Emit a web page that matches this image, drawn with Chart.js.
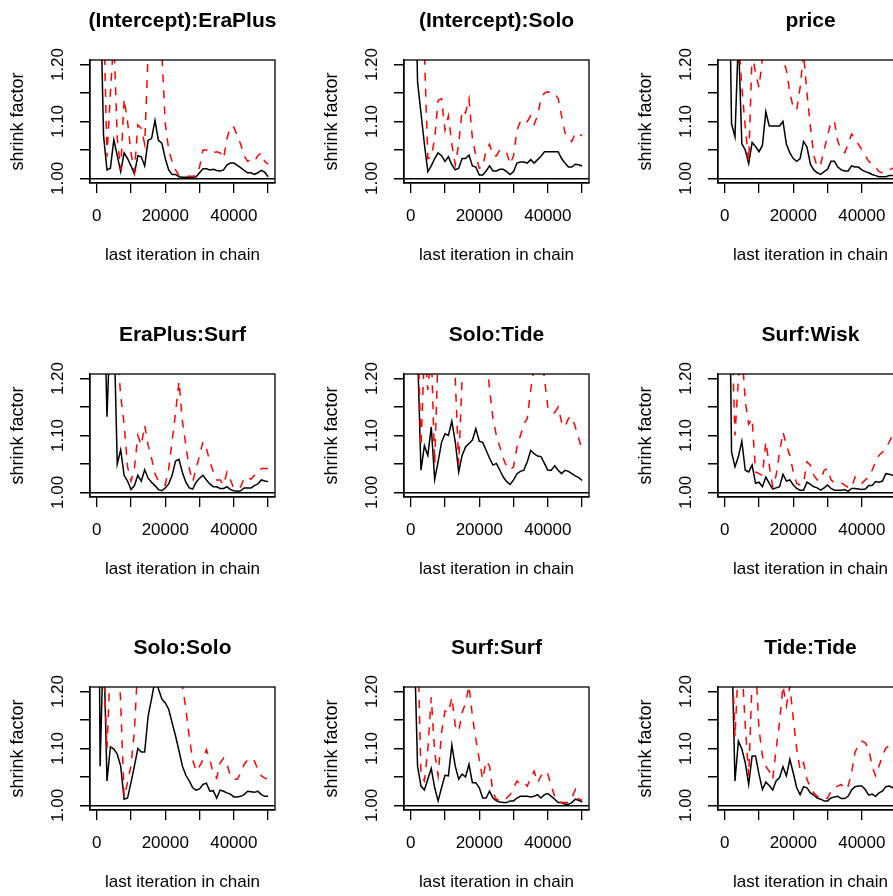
<!DOCTYPE html>
<html>
<head>
<meta charset="utf-8">
<script src="https://cdn.jsdelivr.net/npm/chart.js@4.4.0/dist/chart.umd.min.js"></script>
<style>
  body { margin: 0; background: #fff; }
  #grid { position: relative; width: 893px; height: 896px; overflow: hidden; background: #fff; }
  #grid canvas { position: absolute; }
</style>
</head>
<body>
<div id="grid"></div>
<script>
// Gelman-Rubin shrink factor plots, 3 x 3 panels

// x values: last iteration in chain
var iterations = [0, 1000, 2000, 3000, 4000, 5000, 6000, 7000, 8000, 9000,
  10000, 11000, 12000, 13000, 14000, 15000, 16000, 17000, 18000, 19000,
  20000, 21000, 22000, 23000, 24000, 25000, 26000, 27000, 28000, 29000,
  30000, 31000, 32000, 33000, 34000, 35000, 36000, 37000, 38000, 39000,
  40000, 41000, 42000, 43000, 44000, 45000, 46000, 47000, 48000, 49000, 50000];

var xTicks = [0, 10000, 20000, 30000, 40000, 50000];
var xTickLabels = ['0', '', '20000', '', '40000', ''];
var yTicks = [1.00, 1.05, 1.10, 1.15, 1.20];
var yTickLabels = ['1.00', '', '1.10', '', '1.20'];

var panelTitles = ['(Intercept):EraPlus', '(Intercept):Solo', 'price',
  'EraPlus:Surf', 'Solo:Tide', 'Surf:Wisk',
  'Solo:Solo', 'Surf:Surf', 'Tide:Tide'];

// median (black) and 97.5% (red dashed) shrink factors
var eraPlusMedian = [1.6, 1.35, 1.075, 1.015, 1.018, 1.068, 1.04, 1.012, 1.045, 1.035,
  1.022, 1.008, 1.04, 1.038, 1.022, 1.067, 1.07, 1.102, 1.067, 1.062,
  1.035, 1.015, 1.007, 1.007, 1.003, 1.002, 1.002, 1.002, 1.002, 1.003,
  1.01, 1.017, 1.017, 1.015, 1.016, 1.014, 1.013, 1.015, 1.024, 1.027,
  1.027, 1.023, 1.019, 1.014, 1.01, 1.01, 1.007, 1.01, 1.014, 1.011, 1.003];
var eraPlusUpper = [2.0, 1.6, 1.3, 1.038, 1.15, 1.25, 1.07, 1.015, 1.14, 1.10,
  1.045, 1.012, 1.094, 1.088, 1.06, 1.22, 1.35, 1.35, 1.3, 1.22,
  1.097, 1.05, 1.03, 1.015, 1.005, 1.004, 1.004, 1.004, 1.004, 1.005,
  1.02, 1.05, 1.05, 1.045, 1.045, 1.047, 1.045, 1.035, 1.07, 1.091,
  1.09, 1.075, 1.06, 1.04, 1.03, 1.033, 1.03, 1.04, 1.045, 1.03, 1.025];

var soloMedian = [2.0, 1.5, 1.17, 1.115, 1.06, 1.012, 1.022, 1.035, 1.045, 1.04,
  1.03, 1.038, 1.024, 1.015, 1.018, 1.035, 1.035, 1.041, 1.022, 1.02,
  1.006, 1.006, 1.013, 1.022, 1.013, 1.013, 1.016, 1.016, 1.012, 1.007,
  1.012, 1.027, 1.029, 1.029, 1.027, 1.033, 1.027, 1.033, 1.039, 1.047,
  1.047, 1.047, 1.047, 1.047, 1.035, 1.027, 1.02, 1.02, 1.025, 1.024, 1.022];
var soloUpper = [2.0, 1.8, 1.5, 1.35, 1.22, 1.035, 1.038, 1.07, 1.137, 1.14,
  1.085, 1.11, 1.06, 1.024, 1.06, 1.12, 1.115, 1.14, 1.07, 1.04,
  1.018, 1.02, 1.05, 1.06, 1.04, 1.04, 1.05, 1.05, 1.045, 1.025,
  1.04, 1.085, 1.1, 1.095, 1.1, 1.11, 1.095, 1.11, 1.14, 1.15,
  1.152, 1.15, 1.15, 1.14, 1.11, 1.08, 1.07, 1.065, 1.08, 1.078, 1.075];

var priceMedian = [2.0, 1.5, 1.096, 1.073, 1.25, 1.061, 1.05, 1.026, 1.063, 1.056,
  1.047, 1.058, 1.117, 1.092, 1.092, 1.092, 1.092, 1.1, 1.06, 1.045,
  1.035, 1.03, 1.035, 1.065, 1.055, 1.025, 1.015, 1.01, 1.007, 1.012,
  1.016, 1.03, 1.03, 1.02, 1.015, 1.013, 1.013, 1.022, 1.02, 1.02,
  1.015, 1.012, 1.01, 1.007, 1.005, 1.003, 1.003, 1.003, 1.005, 1.005, 1.005];
var priceUpper = [2.0, 1.8, 1.6, 1.4, 1.25, 1.16, 1.09, 1.03, 1.22, 1.185,
  1.16, 1.21, 1.3, 1.3, 1.3, 1.3, 1.3, 1.21, 1.19, 1.15,
  1.125, 1.12, 1.16, 1.22, 1.15, 1.09, 1.04, 1.02, 1.025, 1.05,
  1.075, 1.1, 1.1, 1.065, 1.05, 1.045, 1.06, 1.078, 1.07, 1.06,
  1.05, 1.04, 1.03, 1.025, 1.02, 1.012, 1.01, 1.012, 1.015, 1.018, 1.02];

var eraPlusSurfMedian = [2.0, 1.6, 1.4, 1.133, 1.3, 1.3, 1.05, 1.075, 1.03, 1.02,
  1.005, 1.012, 1.03, 1.02, 1.04, 1.025, 1.018, 1.012, 1.005, 1.003,
  1.008, 1.015, 1.03, 1.055, 1.058, 1.035, 1.018, 1.008, 1.006, 1.018,
  1.025, 1.03, 1.022, 1.015, 1.01, 1.01, 1.007, 1.007, 1.01, 1.005,
  1.003, 1.002, 1.003, 1.008, 1.008, 1.008, 1.012, 1.015, 1.022, 1.02, 1.019];
var eraPlusSurfUpper = [2.0, 2.0, 1.8, 1.6, 1.5, 1.4, 1.25, 1.17, 1.12, 1.045,
  1.02, 1.042, 1.1, 1.083, 1.118, 1.083, 1.06, 1.033, 1.02, 1.016,
  1.013, 1.042, 1.09, 1.14, 1.195, 1.125, 1.083, 1.042, 1.019, 1.042,
  1.065, 1.089, 1.077, 1.054, 1.036, 1.022, 1.022, 1.013, 1.036, 1.022,
  1.007, 1.007, 1.01, 1.025, 1.027, 1.023, 1.03, 1.033, 1.042, 1.042, 1.042];

var soloTideMedian = [2.0, 1.6, 1.25, 1.039, 1.082, 1.065, 1.115, 1.023, 1.054, 1.088,
  1.103, 1.1, 1.125, 1.089, 1.036, 1.065, 1.08, 1.086, 1.092, 1.112,
  1.09, 1.088, 1.074, 1.06, 1.048, 1.051, 1.039, 1.027, 1.019, 1.014,
  1.022, 1.033, 1.037, 1.039, 1.054, 1.074, 1.068, 1.064, 1.063, 1.051,
  1.039, 1.039, 1.047, 1.039, 1.033, 1.039, 1.037, 1.033, 1.029, 1.026, 1.021];
var soloTideUpper = [2.0, 1.8, 1.3, 1.08, 1.25, 1.18, 1.25, 1.05, 1.25, 1.3,
  1.3, 1.3, 1.3, 1.2, 1.05, 1.2, 1.3, 1.3, 1.3, 1.3,
  1.3, 1.3, 1.25, 1.18, 1.13, 1.1, 1.08, 1.06, 1.045, 1.04,
  1.045, 1.08, 1.1, 1.12, 1.13, 1.18, 1.22, 1.25, 1.25, 1.2,
  1.15, 1.14, 1.14, 1.15, 1.124, 1.115, 1.13, 1.133, 1.115, 1.095, 1.074];

var surfWiskMedian = [2.0, 1.6, 1.071, 1.045, 1.063, 1.09, 1.039, 1.036, 1.048, 1.016,
  1.018, 1.01, 1.027, 1.016, 1.006, 1.008, 1.01, 1.032, 1.02, 1.022,
  1.013, 1.007, 1.004, 1.004, 1.018, 1.014, 1.01, 1.008, 1.004, 1.008,
  1.013, 1.007, 1.004, 1.004, 1.004, 1.005, 1.002, 1.007, 1.007, 1.006,
  1.005, 1.006, 1.012, 1.012, 1.019, 1.018, 1.02, 1.033, 1.032, 1.03, 1.03];
var surfWiskUpper = [2.0, 2.0, 1.3, 1.1, 1.2, 1.25, 1.16, 1.12, 1.13, 1.036,
  1.033, 1.03, 1.089, 1.048, 1.01, 1.03, 1.071, 1.106, 1.083, 1.065,
  1.036, 1.016, 1.013, 1.016, 1.054, 1.048, 1.03, 1.022, 1.022, 1.039,
  1.042, 1.022, 1.017, 1.017, 1.017, 1.013, 1.009, 1.008, 1.027, 1.019,
  1.016, 1.022, 1.027, 1.039, 1.054, 1.065, 1.071, 1.077, 1.089, 1.1, 1.11];

var soloSoloMedian = [2.0, 1.069, 1.3, 1.043, 1.103, 1.099, 1.09, 1.069, 1.011, 1.013,
  1.04, 1.069, 1.1, 1.094, 1.094, 1.157, 1.187, 1.22, 1.205, 1.187,
  1.18, 1.169, 1.145, 1.122, 1.096, 1.069, 1.053, 1.043, 1.031, 1.027,
  1.029, 1.037, 1.039, 1.025, 1.026, 1.013, 1.027, 1.025, 1.022, 1.02,
  1.015, 1.015, 1.016, 1.019, 1.025, 1.024, 1.023, 1.025, 1.019, 1.016, 1.016];
var soloSoloUpper = [2.0, 1.8, 1.25, 1.1, 1.25, 1.3, 1.3, 1.18, 1.015, 1.04,
  1.07, 1.13, 1.25, 1.3, 1.3, 1.3, 1.3, 1.35, 1.35, 1.35,
  1.35, 1.35, 1.3, 1.3, 1.25, 1.21, 1.17, 1.12, 1.08, 1.06,
  1.069, 1.08, 1.098, 1.08, 1.057, 1.048, 1.075, 1.083, 1.072, 1.052,
  1.046, 1.046, 1.057, 1.072, 1.08, 1.075, 1.078, 1.063, 1.052, 1.048, 1.046];

var surfSurfMedian = [2.0, 1.3, 1.069, 1.034, 1.027, 1.046, 1.065, 1.031, 1.008, 1.031,
  1.053, 1.052, 1.106, 1.069, 1.046, 1.055, 1.05, 1.072, 1.04, 1.04,
  1.031, 1.013, 1.013, 1.025, 1.013, 1.008, 1.006, 1.005, 1.005, 1.008,
  1.008, 1.013, 1.016, 1.016, 1.016, 1.015, 1.016, 1.019, 1.013, 1.019,
  1.021, 1.016, 1.011, 1.005, 1.005, 1.002, 1.002, 1.005, 1.011, 1.009, 1.006];
var surfSurfUpper = [2.0, 1.8, 1.3, 1.052, 1.043, 1.099, 1.19, 1.093, 1.052, 1.128,
  1.166, 1.163, 1.19, 1.14, 1.13, 1.163, 1.18, 1.21, 1.157, 1.116,
  1.081, 1.046, 1.078, 1.069, 1.022, 1.011, 1.008, 1.008, 1.013, 1.019,
  1.031, 1.043, 1.037, 1.04, 1.034, 1.049, 1.06, 1.04, 1.052, 1.06,
  1.055, 1.034, 1.016, 1.008, 1.005, 1.005, 1.005, 1.013, 1.028, 1.011, 1.009];

var tideTideMedian = [2.0, 1.6, 1.3, 1.043, 1.113, 1.099, 1.075, 1.037, 1.087, 1.087,
  1.055, 1.028, 1.041, 1.035, 1.027, 1.043, 1.049, 1.068, 1.052, 1.081,
  1.057, 1.031, 1.019, 1.033, 1.031, 1.022, 1.018, 1.013, 1.011, 1.008,
  1.008, 1.013, 1.015, 1.016, 1.012, 1.012, 1.016, 1.027, 1.033, 1.034,
  1.034, 1.028, 1.018, 1.02, 1.016, 1.022, 1.025, 1.033, 1.034, 1.031, 1.03];
var tideTideUpper = [2.0, 2.0, 1.3, 1.12, 1.25, 1.25, 1.14, 1.052, 1.22, 1.25,
  1.134, 1.087, 1.069, 1.06, 1.046, 1.099, 1.146, 1.21, 1.175, 1.21,
  1.152, 1.099, 1.063, 1.075, 1.046, 1.031, 1.022, 1.016, 1.013, 1.011,
  1.013, 1.025, 1.031, 1.034, 1.037, 1.028, 1.034, 1.057, 1.093, 1.107,
  1.113, 1.11, 1.099, 1.069, 1.052, 1.069, 1.087, 1.101, 1.105, 1.103, 1.1];

var medians = [eraPlusMedian, soloMedian, priceMedian, eraPlusSurfMedian, soloTideMedian,
  surfWiskMedian, soloSoloMedian, surfSurfMedian, tideTideMedian];
var uppers = [eraPlusUpper, soloUpper, priceUpper, eraPlusSurfUpper, soloTideUpper,
  surfWiskUpper, soloSoloUpper, surfSurfUpper, tideTideUpper];

var fontFamily = '"Liberation Sans", Arial, Helvetica, sans-serif';
Chart.defaults.font.family = fontFamily;
Chart.defaults.font.size = 17;
Chart.defaults.color = '#000';

// box round the plot, panel title and R-style vertical y labels
var rFrame = {
  id: 'rFrame',
  afterDraw: function(chart, args, opts) {
    var ctx = chart.ctx;
    var a = chart.chartArea;
    var yScale = chart.scales.y;
    ctx.save();
    ctx.strokeStyle = '#000';
    ctx.lineWidth = 1.3;
    ctx.strokeRect(a.left, a.top, a.right - a.left, a.bottom - a.top);

    ctx.fillStyle = '#000';
    ctx.textAlign = 'center';
    ctx.textBaseline = 'middle';
    ctx.font = 'bold 21px ' + fontFamily;
    ctx.fillText(opts.text, (a.left + a.right) / 2, 21);

    ctx.font = '17px ' + fontFamily;
    yTicks.forEach(function(v, i) {
      if (!yTickLabels[i]) return;
      ctx.save();
      ctx.translate(58, yScale.getPixelForValue(v));
      ctx.rotate(-Math.PI / 2);
      ctx.fillText(yTickLabels[i], 0, 0);
      ctx.restore();
    });
    ctx.restore();
  }
};

function toPoints(values) {
  return iterations.map(function(x, i) { return { x: x, y: values[i] }; });
}

var grid = document.getElementById('grid');
var rowTops = [0, 314, 627];

for (var i = 0; i < 9; i++) {
  var canvas = document.createElement('canvas');
  canvas.width = 314;
  canvas.height = 313;
  canvas.style.left = (i % 3) * 314 + 'px';
  canvas.style.top = rowTops[Math.floor(i / 3)] + 'px';
  grid.appendChild(canvas);

  new Chart(canvas.getContext('2d'), {
    type: 'line',
    data: {
      datasets: [{
        label: '97.5%',
        data: toPoints(uppers[i]),
        borderColor: '#ff0000',
        borderDash: [8, 8],
        borderWidth: 1.5,
        pointRadius: 0,
        fill: false,
        tension: 0
      },
      {
        label: 'median',
        data: toPoints(medians[i]),
        borderColor: '#000000',
        borderWidth: 1.5,
        pointRadius: 0,
        fill: false,
        tension: 0
      }]
    },
    options: {
      responsive: false,
      animation: false,
      layout: { padding: { left: 0, right: 39, top: 60, bottom: 0 } },
      plugins: {
        legend: { display: false },
        tooltip: { enabled: false },
        rFrame: { text: panelTitles[i] }
      },
      scales: {
        x: {
          type: 'linear',
          min: -1950,
          max: 52000,
          afterBuildTicks: function(scale) {
            scale.ticks = xTicks.map(function(v) { return { value: v }; });
          },
          afterFit: function(scale) { scale.height = 130; },
          ticks: {
            autoSkip: false,
            maxRotation: 0,
            minRotation: 0,
            padding: 13,
            callback: function(value, index) { return xTickLabels[index]; }
          },
          grid: { drawOnChartArea: false, drawTicks: true, tickLength: 10, color: '#000', lineWidth: 1.3 },
          border: { display: true, color: '#000', width: 1.3 },
          title: { display: true, text: 'last iteration in chain', padding: { top: 0, bottom: 47 } }
        },
        y: {
          type: 'linear',
          min: 0.992,
          max: 1.208,
          afterBuildTicks: function(scale) {
            scale.ticks = yTicks.map(function(v) { return { value: v }; });
          },
          afterFit: function(scale) { scale.width = 90; },
          ticks: { display: false },
          grid: {
            drawOnChartArea: true,
            drawTicks: true,
            tickLength: 10,
            lineWidth: 1.5,
            tickColor: '#000',
            color: function(c) { return c.tick && c.tick.value === 1 ? '#000' : 'rgba(0,0,0,0)'; }
          },
          border: { display: true, color: '#000', width: 1.3 },
          title: { display: true, text: 'shrink factor', font: { size: 18 }, padding: { top: 7, bottom: 0 } }
        }
      }
    },
    plugins: [rFrame]
  });
}
</script>
</body>
</html>
